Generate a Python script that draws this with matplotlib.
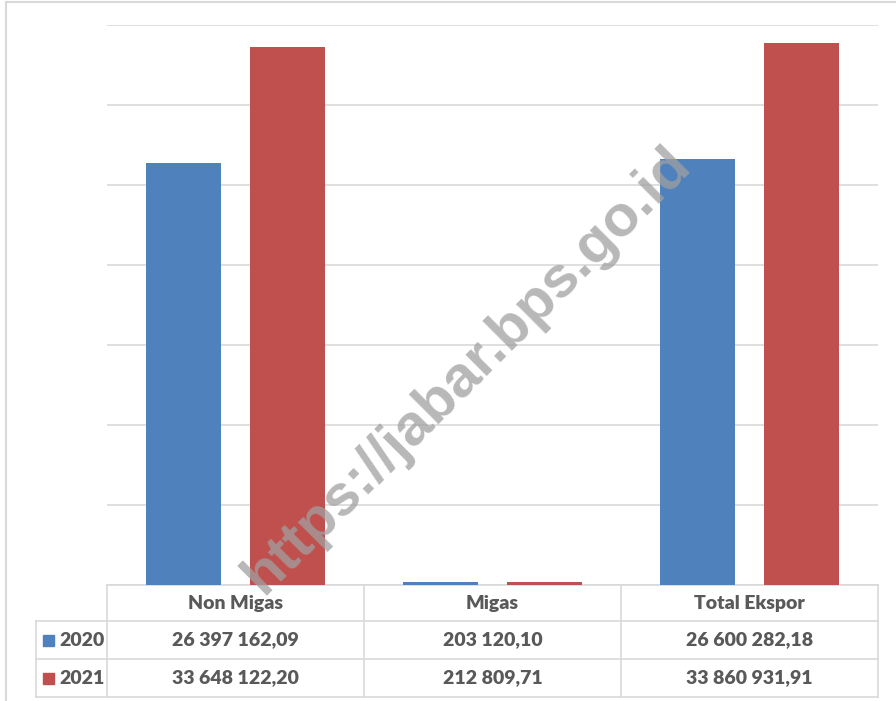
import matplotlib
matplotlib.use("Agg")
import matplotlib.pyplot as plt
from matplotlib.lines import Line2D
from matplotlib.patches import Rectangle
import matplotlib.transforms as mtransforms

categories = ["Non Migas", "Migas", "Total Ekspor"]
years = ["2020", "2021"]
values_2020 = [26397162.09, 203120.10, 26600282.18]
values_2021 = [33648122.20, 212809.71, 33860931.91]
labels_2020 = ["26 397 162,09", "203 120,10", "26 600 282,18"]
labels_2021 = ["33 648 122,20", "212 809,71", "33 860 931,91"]
colors = ["#4F81BD", "#C0504D"]

W, H = 896, 701
fig = plt.figure(figsize=(W / 100, H / 100), dpi=100)
plt.rcParams['font.family'] = ['Lato', 'DejaVu Sans']

def fx(px):
    return px / W

def fy(py):
    return 1 - py / H

ax_l, ax_r, ax_t, ax_b = 107, 878, 25, 585
ax = fig.add_axes([fx(ax_l), fy(ax_b), fx(ax_r - ax_l), (ax_b - ax_t) / H])

x = list(range(len(categories)))
bw = 0.292
off = 0.204
ax.bar([i - off for i in x], values_2020, width=bw, color=colors[0], zorder=3)
ax.bar([i + off for i in x], values_2021, width=bw, color=colors[1], zorder=3)
ax.set_xlim(-0.5, len(categories) - 0.5)
ax.set_ylim(0, 35000000)
ax.set_yticks(range(0, 35000001, 5000000))
ax.set_yticklabels([])
ax.set_xticks([])
ax.tick_params(left=False, bottom=False)
ax.grid(axis='y', color='#d9d9d9', linewidth=1.2, zorder=0)
for s in ['left', 'right', 'top']:
    ax.spines[s].set_visible(False)
ax.spines['bottom'].set_color('#d9d9d9')
ax.spines['bottom'].set_linewidth(1.2)

# watermark
fig.text(fx(467), fy(370), "https://jabar.bps.go.id", rotation=45, fontsize=42,
         family='Liberation Sans', fontweight='bold', color='#a0a0a0', alpha=0.75,
         ha='center', va='center', zorder=10)

# outer border
lc = '#d9d9d9'
fig.add_artist(Line2D([fx(6), 1], [fy(2), fy(2)], color=lc, lw=1.5, transform=fig.transFigure))
fig.add_artist(Line2D([fx(6), fx(6)], [fy(2), 0], color=lc, lw=1.5, transform=fig.transFigure))

# table grid
rows_y = [585, 621, 659, 697]
col_x = [107, 364, 621, 878]
for cx in col_x:
    fig.add_artist(Line2D([fx(cx), fx(cx)], [fy(585), fy(697)], color=lc, lw=1.2, transform=fig.transFigure))
fig.add_artist(Line2D([fx(36), fx(36)], [fy(621), fy(697)], color=lc, lw=1.2, transform=fig.transFigure))
for ry in rows_y[1:]:
    fig.add_artist(Line2D([fx(36), fx(878)], [fy(ry), fy(ry)], color=lc, lw=1.2, transform=fig.transFigure))

tc = '#595959'
fs = 14
fw = 'heavy'
trans = mtransforms.blended_transform_factory(ax.transData, fig.transFigure)
row_centers = [(585 + 621) / 2, (621 + 659) / 2, (659 + 697) / 2]
for i, c in enumerate(categories):
    fig.text(i, fy(row_centers[0]), c, transform=trans, ha='center', va='center',
             fontsize=fs, fontweight=fw, color=tc)
    fig.text(i, fy(row_centers[1]), labels_2020[i], transform=trans, ha='center', va='center',
             fontsize=fs, fontweight=fw, color=tc)
    fig.text(i, fy(row_centers[2]), labels_2021[i], transform=trans, ha='center', va='center',
             fontsize=fs, fontweight=fw, color=tc)

for k, yr in enumerate(years):
    cy = row_centers[k + 1]
    fig.add_artist(Rectangle((fx(43), fy(cy + 6)), fx(11), 11 / H, color=colors[k],
                             transform=fig.transFigure))
    fig.text(fx(59), fy(cy), yr, ha='left', va='center', fontsize=fs,
             fontweight=fw, color=tc)

fig.savefig("out.png", dpi=100)
